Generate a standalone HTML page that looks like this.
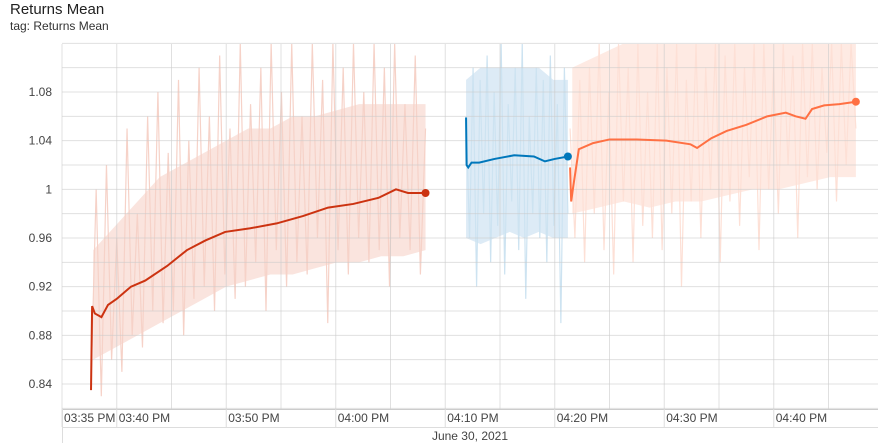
<!DOCTYPE html>
<html><head><meta charset="utf-8"><style>
body{margin:0;background:#fff;font-family:"Liberation Sans",sans-serif;}
#wrap{position:relative;width:885px;height:443px;overflow:hidden}
.t1{position:absolute;left:10px;top:1px;font-size:15px;color:#212121}
.t2{position:absolute;left:10px;top:19px;font-size:12px;color:#333}
</style></head><body><div id="wrap">
<div class="t1">Returns Mean</div>
<div class="t2">tag: Returns Mean</div>
<svg id="svg" width="885" height="443" style="position:absolute;left:0;top:0"></svg>
</div>
<script>
const yTicks=[0.84,0.88,0.92,0.96,1,1.04,1.08];
const xTickLabels=["03:35 PM","03:40 PM","03:50 PM","04:00 PM","04:10 PM","04:20 PM","04:30 PM","04:40 PM"];
const xTickMinutes=[0,5,15,25,35,45,55,65];
const dateLabel="June 30, 2021";
const redT=[2.65,2.75,3.0,3.6,4.2,5.0,6.3,7.6,9.6,11.4,13.1,14.9,17.2,19.6,22.0,24.3,26.6,28.9,30.5,31.6,33.2];
const redV=[0.835,0.904,0.898,0.895,0.905,0.91,0.92,0.925,0.937,0.95,0.958,0.965,0.968,0.972,0.978,0.985,0.988,0.993,1.0,0.997,0.997];
const blueT=[36.9,36.95,37.1,37.4,38.1,39.5,41.3,43.1,44.1,45.0,46.2];
const blueV=[1.059,1.02,1.018,1.022,1.022,1.025,1.028,1.027,1.023,1.025,1.027];
const orangeT=[46.4,46.5,46.7,47.2,48.5,50.0,52.5,55.2,57.4,58.0,59.3,60.7,62.5,64.4,66.1,67.0,67.9,68.5,69.6,71.0,72.5];
const orangeV=[1.018,0.99,1.003,1.033,1.038,1.041,1.041,1.04,1.037,1.034,1.042,1.048,1.053,1.06,1.063,1.06,1.058,1.066,1.069,1.07,1.072];
const redLo=[0.86,0.87,0.88,0.89,0.9,0.91,0.92,0.925,0.93,0.93,0.935,0.94,0.94,0.945,0.945,0.95];
const redHi=[0.95,0.97,0.99,1.01,1.02,1.03,1.04,1.05,1.05,1.06,1.06,1.065,1.07,1.07,1.07,1.07];
const blueLo=[0.96,0.955,0.96,0.965,0.96,0.965,0.96,0.96];
const blueHi=[1.09,1.1,1.1,1.1,1.1,1.1,1.09,1.09];
const orangeLo=[0.98,0.985,0.99,0.985,0.99,0.99,0.995,1.0,1.0,1.005,1.01,1.01];
const orangeHi=[1.1,1.11,1.12,1.12,1.12,1.12,1.12,1.12,1.12,1.12,1.12,1.12];
const redRaw=[0.84,1.0,0.83,1.02,0.86,0.96,0.85,1.05,0.88,0.98,0.87,1.06,0.9,1.08,0.89,1.03,0.9,1.09,0.88,1.04,0.91,1.1,0.92,1.06,0.9,1.11,0.93,1.05,0.91,1.12,0.92,1.07,0.94,1.1,0.9,1.12,0.95,1.08,0.92,1.12,0.94,1.06,0.93,1.12,0.96,1.09,0.89,1.12,0.95,1.1,0.93,1.12,0.96,1.08,0.94,1.12,0.95,1.1,0.92,1.12,0.96,1.07,0.95,1.11,0.93,1.05];
const blueRaw=[1.06,0.96,1.1,0.92,1.09,0.98,1.11,0.94,1.08,0.97,1.12,0.93,1.07,0.99,1.1,0.95,1.12,0.91,1.06,0.98,1.1,0.96,1.09,0.94,1.11,0.97,1.07,0.89,1.1,0.98];
const orangeRaw=[1.05,0.96,1.09,0.94,1.1,0.98,1.12,0.95,1.08,0.93,1.12,0.99,1.1,0.94,1.12,0.97,1.08,0.96,1.12,0.95,1.1,0.98,1.12,0.92,1.09,0.99,1.12,0.96,1.1,1.0,1.12,0.94,1.11,0.99,1.12,0.97,1.1,1.01,1.12,0.95,1.12,1.0,1.1,0.98,1.12,1.02,1.11,0.96,1.12,1.01,1.12,1.0,1.1,1.03,1.12,0.99,1.12,1.02,1.12,1.05];
const L=62,R=878,T=44,B=409;
const X=m=>62+m*10.95;
const Y=v=>92+(1.08-v)*1216.7;
const svg=document.getElementById('svg');
const NS="http://www.w3.org/2000/svg";
function mk(tag,attrs,parent){const e=document.createElementNS(NS,tag);for(const k in attrs)e.setAttribute(k,attrs[k]);(parent||svg).appendChild(e);return e;}
const defs=mk('defs',{});const cp=mk('clipPath',{id:'c'},defs);mk('rect',{x:L,y:T,width:R-L,height:B-T},cp);
const gp=mk('g',{'clip-path':'url(#c)'});
function band(lo,hi,t0,t1,col,name){const s=(t1-t0)/(lo.length-1);
const up=hi.map((v,i)=>X(t0+i*s)+','+Y(v));
const dn=lo.map((v,i)=>X(t0+i*s)+','+Y(v)).reverse();
const p=mk('polygon',{points:up.concat(dn).join(' '),fill:col,'fill-opacity':0.6},gp);

}
function raw(vals,t0,t1,col,name){const step=(t1-t0)/(vals.length-1);
const pts=vals.map((v,i)=>X(t0+i*step)+','+Y(v)).join(' ');
const p=mk('polyline',{points:pts,fill:'none',stroke:col,'stroke-width':1.2},gp);

}
band(redLo,redHi,redT[0]+0.2,redT[redT.length-1],'#f6d2c8','red-run-band');
band(blueLo,blueHi,blueT[0],blueT[blueT.length-1],'#c6def0','blue-run-band');
band(orangeLo,orangeHi,orangeT[0]+0.2,orangeT[orangeT.length-1],'#fddcd0','orange-run-band');
raw(redRaw,redT[0],redT[redT.length-1],'#f6d2c8','red-run-raw');
raw(blueRaw,blueT[0],blueT[blueT.length-1],'#cde3f1','blue-run-raw');
raw(orangeRaw,orangeT[0],orangeT[orangeT.length-1],'#fde0d6','orange-run-raw');
for(let v=0.82;v<=1.121;v+=0.02){const g=mk('line',{x1:L,x2:R,y1:Y(v),y2:Y(v),stroke:'#ccc','stroke-opacity':0.6,'stroke-width':1});

}
for(let m=0;X(m)<=R;m+=5){const g=mk('line',{x1:X(m),x2:X(m),y1:T,y2:B,stroke:'#ccc','stroke-opacity':0.6,'stroke-width':1});

}
yTicks.forEach(v=>{const t=mk('text',{x:52,y:Y(v)+4,'text-anchor':'end','font-size':12,fill:'#444'});t.textContent=String(v);

});
mk('line',{x1:L,x2:R,y1:B+0.5,y2:B+0.5,stroke:'#ccc'});
mk('line',{x1:L,x2:R,y1:427.5,y2:427.5,stroke:'#ddd'});
mk('line',{x1:L+0.5,x2:L+0.5,y1:B,y2:443,stroke:'#ddd'});
xTickMinutes.forEach((m,i)=>{mk('line',{x1:X(m),x2:X(m),y1:B,y2:427,stroke:'#ddd'});
const t=mk('text',{x:X(m)+2,y:422,'font-size':12,fill:'#444'});t.textContent=xTickLabels[i];

});
const d=mk('text',{x:470,y:440,'text-anchor':'middle','font-size':12,fill:'#444'});d.textContent=dateLabel;


const gs=mk('g',{'clip-path':'url(#c)'});
function smooth(ts,vs,col,name){const pts=ts.map((t,i)=>X(t)+','+Y(vs[i])).join(' ');
const p=mk('polyline',{points:pts,fill:'none',stroke:col,'stroke-width':2},gs);


const c=mk('circle',{cx:X(ts[ts.length-1]),cy:Y(vs[vs.length-1]),r:4,fill:col},gs);

}
smooth(redT,redV,'#cc3311','red-run-smoothed');
smooth(blueT,blueV,'#0077bb','blue-run-smoothed');
smooth(orangeT,orangeV,'#ff7043','orange-run-smoothed');
</script></body></html>
